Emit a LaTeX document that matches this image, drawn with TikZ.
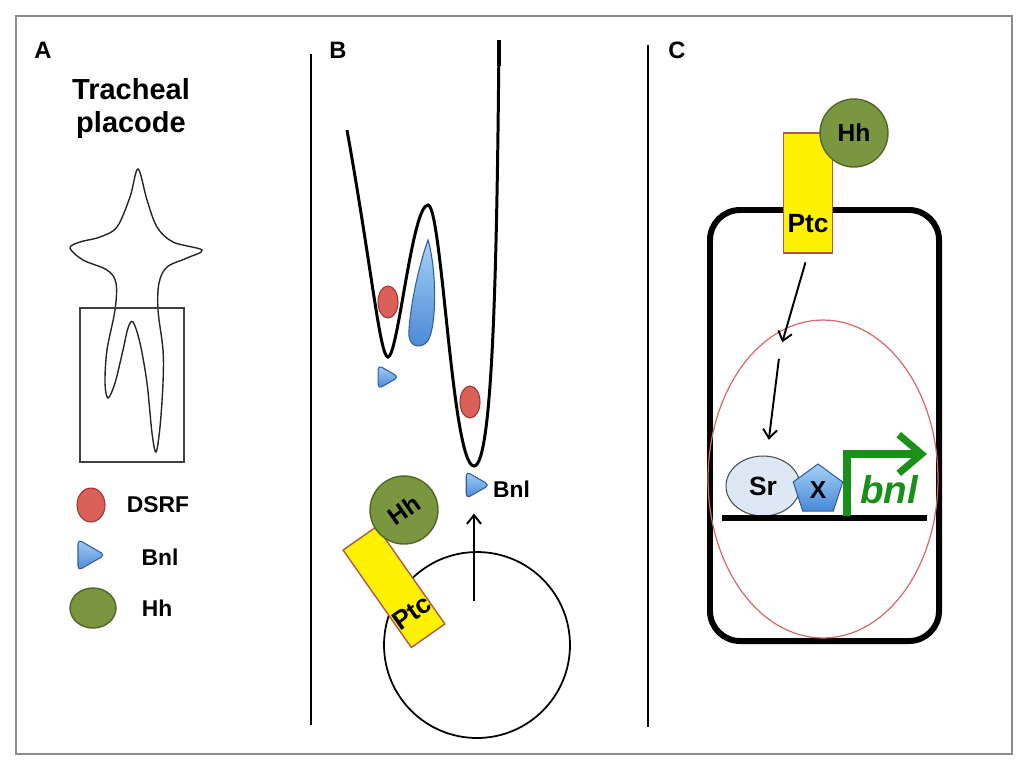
\documentclass[tikz,border=0pt]{standalone}
\usepackage{fontspec}
\setmainfont{Liberation Sans}
\usetikzlibrary{shapes.geometric,arrows.meta}

\definecolor{dsrfred}{RGB}{218,96,88}
\definecolor{dsrfdark}{RGB}{150,55,50}
\definecolor{bnllight}{RGB}{165,208,246}
\definecolor{bnlblue}{RGB}{72,136,214}
\definecolor{bnldark}{RGB}{50,92,160}
\definecolor{hhgreen}{RGB}{122,150,62}
\definecolor{hhdark}{RGB}{82,102,40}
\definecolor{ptcyellow}{RGB}{255,242,0}
\definecolor{ptcedge}{RGB}{175,90,80}
\definecolor{genegreen}{RGB}{25,145,25}
\definecolor{nucred}{RGB}{215,105,110}
\definecolor{srfill}{RGB}{222,232,244}
\definecolor{framegray}{RGB}{140,140,140}

\begin{document}
\begin{tikzpicture}[x=0.02cm,y=-0.02cm,
  lab/.style={font=\bfseries\fontsize{13.5}{16}\selectfont},
  txt/.style={font=\bfseries\fontsize{13}{15}\selectfont,inner sep=1pt},
  framebox/.style={draw=framegray,line width=1pt},
  divider/.style={line width=1.4pt},
  outline/.style={line width=0.8pt,draw=black!85},
  boxline/.style={line width=0.7pt,draw=black!75},
  epith/.style={line width=1.7pt},
  dsrf/.style={ellipse,draw=dsrfdark,fill=dsrfred,line width=0.6pt,inner sep=0pt},
  bnl/.style={regular polygon,regular polygon sides=3,shape border rotate=-90,rounded corners=2.5pt,
    draw=bnldark,top color=bnllight,bottom color=bnlblue,line width=0.6pt,inner sep=0pt},
  drop/.style={draw=bnldark,top color=bnllight,bottom color=bnlblue,line width=0.6pt},
  hh/.style={circle,draw=hhdark,fill=hhgreen,line width=0.8pt,inner sep=0pt,minimum size=1.36cm,
    font=\bfseries\fontsize{14}{16}\selectfont},
  ptc/.style={rectangle,draw=ptcedge,fill=ptcyellow,line width=0.8pt,inner sep=0pt,text depth=0pt,
    font=\bfseries\fontsize{15}{17}\selectfont},
  sig/.style={-{Straight Barb[length=5pt,width=8pt]},line width=1.1pt},
  cellwall/.style={line width=3.4pt,rounded corners=0.6cm},
  nucleus/.style={ellipse,draw=nucred,line width=0.7pt,minimum width=4.6cm,minimum height=6.36cm},
  srbox/.style={ellipse,draw=black!70,fill=srfill,line width=0.6pt,minimum width=1.48cm,minimum height=1.2cm,
    font=\bfseries\fontsize{15}{17}\selectfont},
  xbox/.style={regular polygon,regular polygon sides=5,minimum size=1.04cm,inner sep=0pt,draw=bnldark,
    top color=bnllight,bottom color=bnlblue,line width=0.6pt,font=\bfseries\fontsize{14}{16}\selectfont},
  dna/.style={line width=3.4pt},
  promoter/.style={genegreen,line width=4pt,-{Straight Barb[length=13pt,width=22pt]}},
]
\useasboundingbox (0,0) rectangle (1024,772);
\draw[framebox] (16,16) rectangle (1012,754);
\draw[divider] (311,54) -- (311,725);
\draw[divider] (648,45) -- (648,727);

% A: placode and legend
\node[lab] (labA) at (43,50) {A};
\node[anchor=north,align=center,inner sep=0pt,font=\bfseries\fontsize{16.5}{19}\selectfont] (title) at (131,78) {Tracheal\\placode};
\draw[outline] plot[smooth cycle,tension=0.55] coordinates {
  (138,169) (147,200) (157,227) (173,242) (202,250) (187,258) (167,267) (159,283)
  (158,310) (163,350) (163,383) (160,427) (156,452) (152,433) (147,383) (140,343)
  (133,322) (128,328) (123,350) (115,383) (108,398) (105,383) (107,350) (115,310)
  (116,283) (107,270) (83,260) (70,248) (80,242) (100,237) (117,227) (130,197)};
\draw[boxline] (80,308) rectangle (184,462);

\node[dsrf,minimum width=0.56cm,minimum height=0.68cm] (keyDSRF) at (91,505) {};
\node[txt] (txtDSRF) at (158,505) {DSRF};
\node[bnl,minimum size=0.72cm] (keyBnl) at (87,555) {};
\node[txt] (txtBnl) at (160,557) {Bnl};
\node[hh,ellipse,minimum width=0.92cm,minimum height=0.8cm] (keyHh) at (93,608) {};
\node[txt] (txtHh) at (157,608) {Hh};

% B: branching epithelium
\node[lab] (labB) at (338,50) {B};
\draw[epith] (347,130) .. controls (372,270) and (380,357) .. (388,357)
  .. controls (398,357) and (412,205) .. (428,205)
  .. controls (442,205) and (452,466) .. (474,466)
  .. controls (493,466) and (497,260) .. (499,40);
\draw[line width=2.4pt] (499,40) -- (499,66);
\node[dsrf,minimum width=0.4cm,minimum height=0.64cm] (dsrfB1) at (388,302) {};
\node[dsrf,minimum width=0.4cm,minimum height=0.64cm] (dsrfB2) at (470,402) {};
\shadedraw[drop] (428,240) .. controls (437,270) and (437,330) .. (427,342)
  .. controls (419,350) and (407,346) .. (409,330)
  .. controls (411,300) and (420,262) .. (428,240) -- cycle;
\node[bnl,minimum size=0.55cm] (bnlB1) at (385,377) {};
\node[bnl,minimum size=0.62cm] (bnlB2) at (474,485) {};
\node[txt,anchor=west] (txtBnlB) at (491,489) {Bnl};
\node[draw,circle,line width=1pt,minimum size=3.72cm] (cellB) at (477,645) {};
\coordinate (sigB) at (474,601);
\draw[sig,shorten >=0.38cm] (sigB) -- (bnlB2);
\node[ptc,minimum width=0.7cm,minimum height=2.38cm,text height=46pt,rotate=35] (ptcB) at (394,587) {Ptc};
\node[hh,rotate=35] (hhB) at (404,510) {Hh};

% C: Hh signal to the bnl gene
\node[lab] (labC) at (677,50) {C};
\draw[cellwall] (710,210) rectangle (939,641);
\node[nucleus] (nucC) at (823,479) {};
\node[ptc,minimum width=0.98cm,minimum height=2.4cm,text height=45pt] (ptcC) at (808,193) {Ptc};
\node[hh] (hhC) at (854,133) {Hh};
\node[srbox] (srC) at (763,486) {Sr};
\node[xbox] (xC) at (818,490) {X};
\coordinate (dnaL) at (722,518);
\coordinate (dnaR) at (927,518);
\draw[dna] (dnaL) -- (dnaR);
\coordinate (tss) at (847,516);
\coordinate (tssEnd) at (927,454);
\draw[promoter] (tss) |- (tssEnd);
\node[text=genegreen,font=\bfseries\itshape\fontsize{22}{24}\selectfont] (bnlC) at (889,490) {bnl};
\coordinate (relay) at (780,350);
\draw[sig,shorten <=0.18cm,shorten >=0.16cm] (ptcC.south) -- (relay);
\draw[sig,shorten <=0.18cm,shorten >=0.32cm] (relay) -- (srC);
\end{tikzpicture}
\end{document}
